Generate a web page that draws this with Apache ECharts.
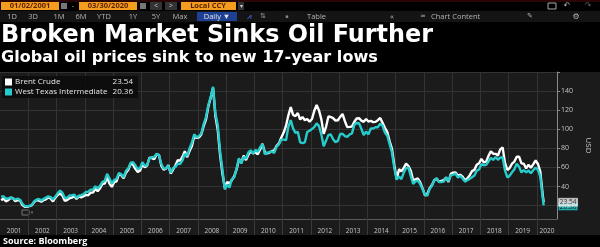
<!DOCTYPE html>
<html><head><meta charset="utf-8">
<script src="https://cdn.jsdelivr.net/npm/echarts@6/dist/echarts.min.js"></script>
<style>html,body{margin:0;padding:0;background:#000;}#c{width:600px;height:247px;}</style>
</head><body><div id="c"></div>
<script>
// ---- data ----
const startYear = 2001; // monthly values start Jan 2001
const seriesNames = ['Brent Crude', 'West Texas Intermediate'];
const brent = [
25.62,27.50,24.50,25.66,28.31,27.85,24.61,25.68,25.62,20.54,18.80,18.71,
19.42,20.28,23.70,25.73,25.35,24.08,25.74,26.65,28.40,27.54,24.34,28.33,
31.18,32.77,30.61,25.00,25.86,27.65,28.35,29.89,27.11,29.61,28.75,29.81,
31.28,30.86,33.63,33.59,37.57,35.18,38.22,42.74,43.16,49.78,43.11,39.60,
44.51,45.48,53.10,51.88,48.65,54.35,57.52,63.98,62.91,58.54,55.24,56.86,
62.99,60.21,62.06,70.26,69.78,68.56,73.67,73.23,61.96,57.81,58.76,62.47,
53.68,57.56,62.05,67.49,67.21,71.05,76.93,70.76,77.17,82.34,92.41,90.93,
91.45,94.58,103.28,110.19,123.94,133.05,143.5,113.85,99.06,72.84,53.24,38.5,
44.86,43.24,46.84,50.85,57.94,68.59,64.91,72.50,67.69,73.19,77.04,74.67,
76.17,73.75,78.83,84.82,75.95,74.76,75.58,77.04,77.84,82.67,85.28,91.45,
96.52,103.72,114.64,123.26,114.99,113.83,116.97,110.22,112.83,109.55,110.77,107.87,
110.69,119.33,125.45,119.75,110.34,95.16,102.62,113.36,112.86,111.71,109.06,109.49,
112.96,116.05,108.47,102.25,102.56,102.92,107.93,111.28,111.60,109.08,107.79,110.76,
108.12,108.90,107.48,107.76,109.54,111.80,106.77,101.61,97.09,87.43,79.44,62.34,
47.76,58.10,55.89,59.52,64.08,61.48,56.56,46.52,47.62,48.43,44.27,38.01,
30.70,32.18,38.21,41.58,46.74,48.25,44.95,45.84,46.57,49.52,44.73,53.31,
54.58,54.87,51.59,52.31,50.33,46.37,48.48,51.70,56.15,57.51,62.71,64.37,
69.08,65.32,66.02,72.11,76.98,74.41,74.25,72.53,78.89,81.03,64.75,57.36,
59.41,63.96,66.14,71.23,71.32,64.22,63.92,59.04,62.83,59.71,63.21,67.31,
63.65,55.66,32.01
];
const wti = [
29.59,29.61,27.25,27.49,28.63,27.60,26.43,27.37,26.20,22.17,19.64,19.39,
19.72,20.72,24.53,26.18,27.04,25.52,26.97,28.39,29.66,28.84,26.35,29.46,
32.95,35.83,33.51,28.17,28.11,30.66,30.76,31.57,28.31,30.34,31.11,32.13,
34.31,34.69,36.74,36.75,40.28,38.03,40.78,44.90,45.94,53.28,48.47,43.15,
46.84,48.15,54.19,52.98,49.83,56.35,59.00,64.99,65.59,62.26,58.32,59.41,
65.49,61.63,62.69,69.44,70.84,70.95,74.41,73.04,63.80,58.89,59.08,61.96,
54.51,59.28,60.44,63.98,63.46,67.49,74.12,72.36,79.92,85.80,94.77,91.69,
92.97,95.39,105.45,112.58,125.40,133.88,144.5,116.67,104.11,76.61,57.31,37.0,
41.71,39.09,47.94,49.65,59.03,69.64,64.15,71.05,69.41,75.72,77.99,74.47,
78.33,76.39,81.20,84.29,73.74,75.34,76.32,76.60,75.24,81.89,84.25,89.15,
89.17,88.58,102.86,109.53,100.90,96.26,97.30,86.33,85.52,86.32,97.16,98.56,
100.27,102.20,106.16,103.32,94.66,82.30,87.90,94.13,94.51,89.49,86.53,87.86,
94.76,95.31,92.94,92.02,94.51,95.77,104.67,106.57,106.29,100.54,93.86,97.63,
94.62,100.82,100.80,102.07,102.18,105.79,103.59,96.54,93.21,84.40,75.79,59.29,
47.22,50.58,47.82,54.45,59.27,59.82,50.90,42.87,45.48,46.22,42.44,37.19,
31.68,30.32,37.55,40.75,46.71,48.76,44.65,44.72,45.18,49.78,45.66,51.97,
52.50,53.47,49.33,51.06,48.48,45.18,46.63,48.04,49.82,51.58,56.64,57.88,
63.70,62.23,62.73,66.25,69.98,67.87,70.98,68.06,70.23,70.75,56.96,49.52,
51.38,54.95,58.15,63.86,60.83,54.66,57.35,54.81,56.95,53.96,57.03,59.88,
57.52,50.54,29.21
];
const lastDate = '2020-03-30';
const lastBrent = 23.54;
const lastWti = 20.36;
const yearLabels = ['2001','2002','2003','2004','2005','2006','2007','2008','2009','2010',
  '2011','2012','2013','2014','2015','2016','2017','2018','2019','2020'];
const yTickValues = [20, 40, 60, 80, 100, 120, 140, 160];
const yLabelValues = [20, 40, 60, 80, 100, 120, 140];
const titleText = 'Broken Market Sinks Oil Further';
const subtitleText = 'Global oil prices sink to new 17-year lows';

// ---- helpers ----
const xMin = 2001, xMax = 2020.72, yMin = 6, yMax = 160;
function decYear(dateStr) {
  const d = new Date(dateStr + 'T00:00:00Z');
  const y = d.getUTCFullYear();
  const s = Date.UTC(y, 0, 1), e = Date.UTC(y + 1, 0, 1);
  return y + (d.getTime() - s) / (e - s);
}
function build(vals, last) {
  const out = vals.map((v, i) => [startYear + (i + 0.5) / 12, v]);
  out.push([decYear(lastDate), last]);
  return out;
}
const brentData = build(brent, lastBrent);
const wtiData = build(wti, lastWti);
const yearTicks = yearLabels.map(Number).filter(y => y > xMin && y < xMax);
const yearLabelPos = yearLabels.map(Number).map(y => Math.min(y + 0.5, (y + xMax) / 2));

const WHITE = '#ffffff', TEAL = '#26cccc';
const FONT = 'Open Sans';
const TFONT = 'DejaVu Sans';
const mctx = document.createElement('canvas').getContext('2d');
function fitSize(text, family, target) {
  mctx.font = 'bold 20px ' + family;
  return 20 * target / mctx.measureText(text).width;
}

// ---- toolbar / header graphics ----
const g = [];
function rect(x, y, w, h, fill, extra) { g.push(Object.assign({ type: 'rect', shape: { x, y, width: w, height: h }, style: { fill }, silent: true }, extra || {})); }
function txt(x, y, t, fill, font, align) { g.push({ type: 'text', x, y, silent: true, style: { text: t, fill, font, textAlign: align || 'left', textVerticalAlign: 'middle' } }); }
rect(0, 0, 600, 2, '#2a0707');
rect(0, 11, 600, 11, '#141414');
// row 1
const orange = '#f39c1e', dark = '#5a1f00';
rect(1, 2, 58, 8, orange); txt(30, 6.2, '01/02/2001', dark, 'bold 7.5px ' + FONT, 'center');
rect(61, 3, 6, 6, '#777'); txt(73, 6, '-', '#bbb', '7px ' + FONT, 'center');
rect(79, 2, 58, 8, orange); txt(108, 6.2, '03/30/2020', dark, 'bold 7.5px ' + FONT, 'center');
rect(140, 3, 6, 6, '#777');
rect(150, 2, 12, 8, '#333'); txt(156, 6, '<', '#ccc', '7px ' + FONT, 'center');
rect(165, 2, 12, 8, '#333'); txt(171, 6, '>', '#ccc', '7px ' + FONT, 'center');
rect(181, 2, 55, 8, orange); txt(208, 6.2, 'Local CCY', dark, 'bold 7.5px ' + FONT, 'center');
rect(238, 2, 6, 8, '#333'); txt(241, 6, '▾', '#ccc', '6px ' + FONT, 'center');
rect(548, 3, 8, 6, 'none', { style: { fill: 'none', stroke: '#aaa', lineWidth: 1 } });
txt(567, 6, '↶', '#bbb', '8px DejaVu Sans', 'center');
txt(588, 6, '↷', '#666', '8px DejaVu Sans', 'center');
// row 2
const tf = '7.5px ' + FONT, tc = '#b4b4b4';
[['1D', 12], ['3D', 33], ['1M', 59], ['6M', 81], ['YTD', 104], ['1Y', 133], ['5Y', 156], ['Max', 180]].forEach(a => txt(a[1], 16.5, a[0], tc, tf, 'center'));
rect(197, 12, 40, 9, '#1d3f94'); txt(217, 16.5, 'Daily ▼', '#e6e6e6', tf, 'center');
txt(249, 16.5, '⩘', '#4a7fff', '8px DejaVu Sans', 'center');
txt(263, 16.5, '⇅', '#999', '7px DejaVu Sans', 'center');
txt(287, 16.5, '▪', '#888', '5px DejaVu Sans', 'center');
txt(307, 16.5, 'Table', tc, tf, 'left');
txt(392, 16.5, '«', tc, '8px ' + FONT, 'center');
txt(423, 16.5, '≃', tc, '7px DejaVu Sans', 'center');
txt(431, 16.5, 'Chart Content', tc, tf, 'left');
txt(530, 16.5, '✎', tc, '7px DejaVu Sans', 'center');
txt(576, 16.5, '⚙', tc, '8px DejaVu Sans', 'center');
// titles (sized to the reference widths)
txt(1, 35.5, titleText, '#ffffff', 'bold ' + fitSize(titleText, TFONT, 432).toFixed(2) + 'px ' + TFONT, 'left');
txt(1, 57.5, subtitleText, '#ffffff', 'bold ' + fitSize(subtitleText, TFONT, 377).toFixed(2) + 'px ' + TFONT, 'left');
// panel
rect(0, 72, 600, 163, '#1b1b1b', { z: -10 });
txt(3, 241, 'Source: Bloomberg', '#ffffff', 'bold 9px ' + FONT, 'left');
// small icon bottom-left of plot
rect(22, 210, 7, 5, 'none', { style: { fill: 'none', stroke: '#777', lineWidth: 1 } });
txt(32, 212.5, '▾', '#777', '5px DejaVu Sans', 'center');

const chart = echarts.init(document.getElementById('c'), null, { renderer: 'canvas' });
chart.setOption({
  backgroundColor: '#000',
  animation: false,
  graphic: { elements: g },
  grid: { left: 0, right: 28, top: 72, bottom: 28, containLabel: false },
  legend: {
    data: seriesNames, left: 2, top: 76, orient: 'vertical', icon: 'rect',
    itemWidth: 7, itemHeight: 7, itemGap: 2, padding: [2, 5, 2, 3],
    backgroundColor: 'rgba(12,12,12,0.9)', selectedMode: false,
    textStyle: { color: '#e6e6e6', fontSize: 8, fontFamily: FONT, padding: [0, 0, 0, -2],
      rich: { n: { width: 98, fontSize: 8, fontFamily: FONT, color: '#e6e6e6' }, v: { width: 20, align: 'right', fontSize: 8, fontFamily: FONT, color: '#e6e6e6' } } },
    formatter: name => `{n|${name}}{v|${(name === seriesNames[0] ? lastBrent : lastWti).toFixed(2)}}`
  },
  xAxis: {
    type: 'value', min: xMin, max: xMax,
    axisLine: { show: true, lineStyle: { color: '#5a5a5a', width: 1 } },
    axisTick: { show: true, customValues: yearTicks, length: 16, lineStyle: { color: '#3a3a3a' } },
    axisLabel: { customValues: yearLabelPos, formatter: v => String(Math.floor(v)), color: '#c4c4c4', fontSize: 6.5, fontFamily: FONT, margin: 9 },
    splitLine: { show: true, lineStyle: { color: '#333', width: 1 } }
  },
  yAxis: {
    type: 'value', position: 'right', min: yMin, max: yMax,
    name: 'USD', nameLocation: 'middle', nameRotate: -90, nameGap: 22,
    nameTextStyle: { color: '#c4c4c4', fontSize: 8, fontFamily: FONT },
    axisLine: { show: true, lineStyle: { color: '#8a8a8a' } },
    axisTick: { show: true, customValues: yTickValues, length: 3, lineStyle: { color: '#8a8a8a' } },
    axisLabel: { customValues: yLabelValues, color: '#c4c4c4', fontSize: 7, fontFamily: FONT, margin: 4 },
    splitLine: { show: true, lineStyle: { color: '#333', width: 1 } }
  },
  series: [
    { name: seriesNames[0], type: 'line', data: brentData, showSymbol: false, color: WHITE,
      lineStyle: { color: WHITE, width: 2.4 }, z: 3 },
    { name: seriesNames[1], type: 'line', data: wtiData, showSymbol: false, color: TEAL,
      lineStyle: { color: TEAL, width: 2.4 }, z: 4 },
    { name: 'wtiLast', type: 'scatter', data: [[xMax, lastWti]], clip: false, symbol: 'rect',
      symbolSize: [19, 8], symbolOffset: [11, 1], itemStyle: { color: TEAL }, z: 5,
      label: { show: true, position: 'inside', formatter: lastWti.toFixed(2), color: '#000', fontSize: 6.5, fontFamily: FONT, offset: [0, 1] } },
    { name: 'brentLast', type: 'scatter', data: [[xMax, lastBrent]], clip: false, symbol: 'rect',
      symbolSize: [19, 8], symbolOffset: [11, 0], itemStyle: { color: '#f2f2f2', borderColor: '#fff', borderWidth: 0.5 }, z: 6,
      label: { show: true, position: 'inside', formatter: lastBrent.toFixed(2), color: '#000', fontSize: 6.5, fontFamily: FONT } }
  ]
});
</script></body></html>
